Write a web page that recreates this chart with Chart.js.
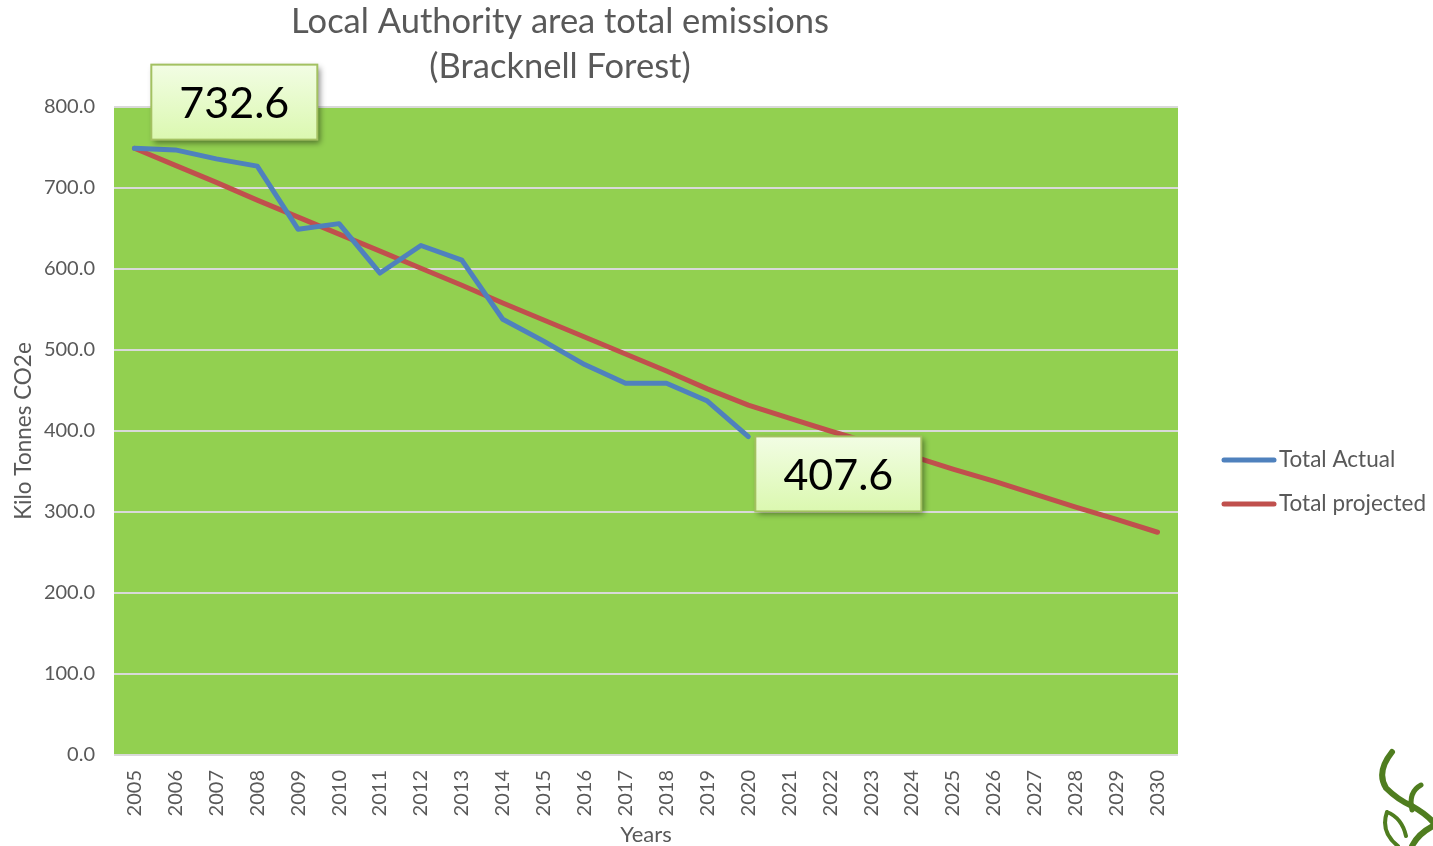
<!DOCTYPE html>
<html>
<head>
<meta charset="utf-8">
<title>Local Authority area total emissions</title>
<script src="https://cdn.jsdelivr.net/npm/chart.js@4.4.1/dist/chart.umd.min.js"></script>
<style>
  html, body { margin: 0; padding: 0; background: #fff; }
  #wrap { width: 1433px; height: 846px; }
</style>
</head>
<body>
<div id="wrap"><canvas id="chart" width="1433" height="846"></canvas></div>
<script>
// data
const years = ['2005','2006','2007','2008','2009','2010','2011','2012','2013','2014','2015','2016','2017',
  '2018','2019','2020','2021','2022','2023','2024','2025','2026','2027','2028','2029','2030'];
const totalActual = [749, 747, 736, 727, 649, 656, 595, 629, 611, 538, 511, 482, 459, 459, 437, 393];
const totalProjected = [749, 728, 707, 685, 664, 643, 622, 601, 580, 558, 537, 516, 495, 474, 452, 432,
  416, 400, 385, 369, 353, 338, 322, 306, 291, 275];
const yTicks = [0, 100, 200, 300, 400, 500, 600, 700, 800];
// callouts: text + anchor in data units (category index, value)
const callouts = [
  { text: '732.6', idx: 2.44, value: 806 },
  { text: '407.6', idx: 17.2, value: 347 }
];

const FONT = 'Lato, "Open Sans", sans-serif';
const GREY = '#595959';

// plot background
const plotBg = {
  id: 'plotBg',
  beforeDraw(chart) {
    const { ctx, chartArea: a } = chart;
    ctx.save();
    ctx.fillStyle = '#92d050';
    ctx.fillRect(a.left, a.top, a.right - a.left, a.bottom - a.top);
    ctx.restore();
  }
};

// title, legend, callout boxes, little logo
const extras = {
  id: 'extras',
  afterDraw(chart) {
    const { ctx } = chart;
    const x = chart.scales.x, y = chart.scales.y;
    ctx.save();

    // title
    ctx.fillStyle = GREY;
    ctx.font = '34.5px ' + FONT;
    ctx.textAlign = 'center';
    ctx.textBaseline = 'middle';
    ctx.fillText('Local Authority area total emissions', 560, 22);
    ctx.fillText('(Bracknell Forest)', 560, 67);

    // legend
    ctx.font = '22.5px ' + FONT;
    ctx.textAlign = 'left';
    chart.data.datasets.forEach((ds, i) => {
      const ly = 460 + i * 44;
      ctx.strokeStyle = ds.borderColor;
      ctx.lineWidth = 5;
      ctx.lineCap = 'round';
      ctx.beginPath();
      ctx.moveTo(1224, ly);
      ctx.lineTo(1274, ly);
      ctx.stroke();
      ctx.fillStyle = GREY;
      ctx.fillText(ds.label, 1279, ly);
    });

    // callouts
    const bw = 166, bh = 75;
    callouts.forEach(c => {
      const cx = x.left + (x.right - x.left) * (c.idx + 0.5) / years.length;
      const cy = y.getPixelForValue(c.value);
      const bx = cx - bw / 2, by = cy - bh / 2;
      ctx.save();
      ctx.shadowColor = 'rgba(0,0,0,0.45)';
      ctx.shadowBlur = 6;
      ctx.shadowOffsetX = 3;
      ctx.shadowOffsetY = 3;
      const g = ctx.createLinearGradient(0, by, 0, by + bh);
      g.addColorStop(0, '#f2fde4');
      g.addColorStop(1, '#dbf8b0');
      ctx.fillStyle = g;
      ctx.fillRect(bx, by, bw, bh);
      ctx.restore();
      ctx.strokeStyle = '#a3c161';
      ctx.lineWidth = 2;
      ctx.strokeRect(bx, by, bw, bh);
      ctx.fillStyle = '#000';
      ctx.font = '43px ' + FONT;
      ctx.textAlign = 'center';
      ctx.fillText(c.text, cx, cy + 2);
    });

    // logo sprig, bottom right
    ctx.strokeStyle = '#4f7d1f';
    ctx.lineCap = 'round';
    ctx.lineWidth = 6;
    ctx.beginPath();
    ctx.moveTo(1392, 752);
    ctx.quadraticCurveTo(1376, 772, 1386, 788);
    ctx.quadraticCurveTo(1398, 800, 1412, 806);
    ctx.quadraticCurveTo(1426, 814, 1433, 822);
    ctx.stroke();
    ctx.lineWidth = 5;
    ctx.beginPath();
    ctx.moveTo(1421, 785);
    ctx.quadraticCurveTo(1408, 792, 1412, 810);
    ctx.stroke();
    ctx.lineWidth = 4;
    ctx.beginPath();
    ctx.moveTo(1387, 812);
    ctx.quadraticCurveTo(1380, 832, 1398, 846);
    ctx.moveTo(1387, 812);
    ctx.quadraticCurveTo(1402, 818, 1406, 836);
    ctx.stroke();
    ctx.lineWidth = 6;
    ctx.beginPath();
    ctx.moveTo(1433, 826);
    ctx.quadraticCurveTo(1418, 834, 1412, 846);
    ctx.stroke();

    ctx.restore();
  }
};

new Chart(document.getElementById('chart'), {
  type: 'line',
  data: {
    labels: years,
    datasets: [
      { label: 'Total Actual', data: totalActual, borderColor: '#4f81bd', backgroundColor: '#4f81bd',
        borderWidth: 5, pointRadius: 0, tension: 0, borderJoinStyle: 'round', borderCapStyle: 'round' },
      { label: 'Total projected', data: totalProjected, borderColor: '#c0504d', backgroundColor: '#c0504d',
        borderWidth: 5, pointRadius: 0, tension: 0, borderJoinStyle: 'round', borderCapStyle: 'round' }
    ]
  },
  options: {
    responsive: false,
    animation: false,
    layout: { padding: { top: 107, right: 255, bottom: 0, left: 0 } },
    plugins: { legend: { display: false }, title: { display: false }, tooltip: { enabled: false } },
    scales: {
      x: {
        offset: true,
        grid: { display: false, drawTicks: false },
        border: { display: false },
        ticks: { color: GREY, font: { family: FONT, size: 20 }, minRotation: 90, maxRotation: 90, padding: 15, autoSkip: false },
        title: { display: true, text: 'Years', color: GREY, font: { family: FONT, size: 22 }, padding: { top: 0, bottom: -2 } },
        afterFit(s) { s.height = 91; }
      },
      y: {
        min: 0, max: 800,
        afterBuildTicks(s) { s.ticks = yTicks.map(v => ({ value: v })); },
        grid: { color: '#d9d9d9', lineWidth: 2, drawTicks: false },
        border: { display: false },
        ticks: { color: GREY, font: { family: FONT, size: 20 }, padding: 19, callback: v => Number(v).toFixed(1) },
        title: { display: true, text: 'Kilo Tonnes CO2e', color: GREY, font: { family: FONT, size: 22.5 }, padding: { top: 10, bottom: 0 } },
        afterFit(s) { s.width = 114; }
      }
    }
  },
  plugins: [plotBg, extras]
});
</script>
</body>
</html>
